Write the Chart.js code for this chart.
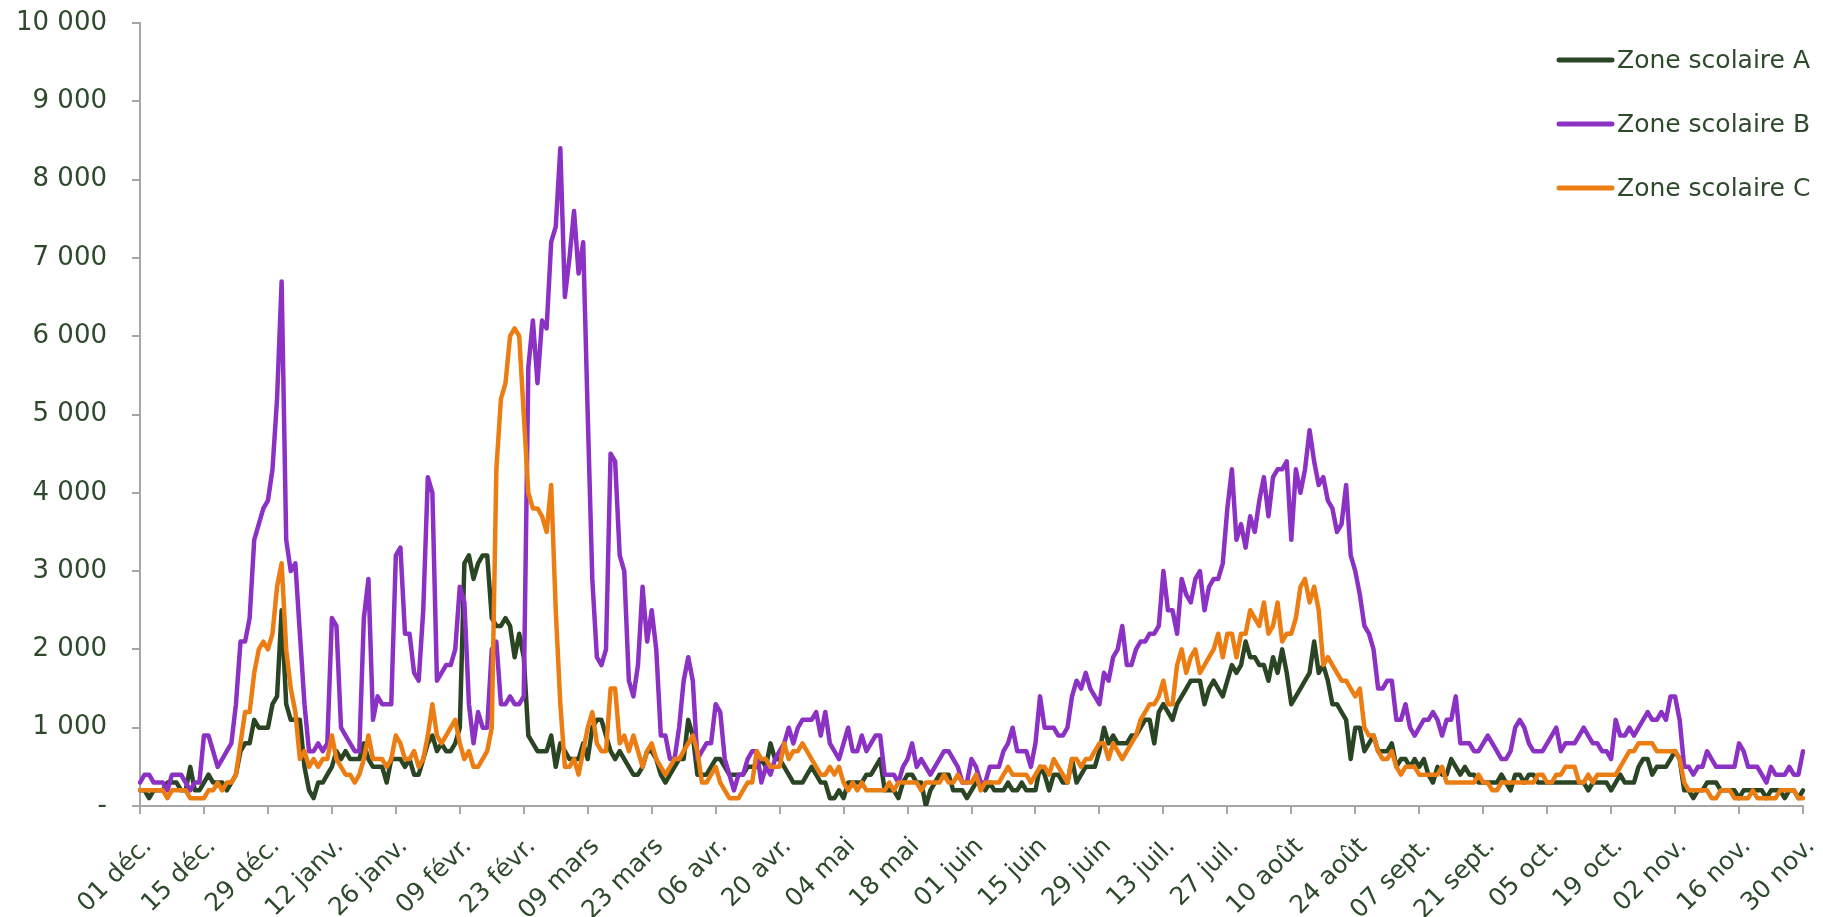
<!DOCTYPE html>
<html lang="fr">
<head>
<meta charset="utf-8">
<title>Zones scolaires</title>
<script src="https://cdn.jsdelivr.net/npm/chart.js@4.4.0/dist/chart.umd.min.js"></script>
<style>
  html, body { margin: 0; padding: 0; background: #ffffff; }
  #cadre { position: relative; width: 1823px; height: 917px; }
</style>
</head>
<body>
<div id="cadre"><canvas id="graphique"></canvas></div>
<script>
// =====================================================================
// Zones scolaires A / B / C - valeurs journalières du 01 déc. au 30 nov.
// =====================================================================

// Étiquettes de l'axe X (une toutes les deux semaines)
const etiquettesX = ['01 déc.', '15 déc.', '29 déc.', '12 janv.', '26 janv.', '09 févr.', '23 févr.',
  '09 mars', '23 mars', '06 avr.', '20 avr.', '04 mai', '18 mai', '01 juin', '15 juin', '29 juin',
  '13 juil.', '27 juil.', '10 août', '24 août', '07 sept.', '21 sept.', '05 oct.', '19 oct.',
  '02 nov.', '16 nov.', '30 nov.'];

// Graduations de l'axe Y
const graduationsY = [0, 1000, 2000, 3000, 4000, 5000, 6000, 7000, 8000, 9000, 10000];

// Valeurs journalières (une ligne = 14 jours)
const zoneA = [
  200, 200, 100, 200, 200, 200, 300, 300, 300, 200, 200, 500, 200, 200,
  300, 400, 300, 300, 300, 200, 300, 400, 700, 800, 800, 1100, 1000, 1000,
  1000, 1300, 1400, 2500, 1300, 1100, 1100, 1100, 500, 200, 100, 300, 300, 400,
  500, 700, 600, 700, 600, 600, 600, 800, 600, 500, 500, 500, 300, 600,
  600, 600, 500, 600, 400, 400, 600, 800, 900, 700, 800, 700, 700, 800,
  1000, 3100, 3200, 2900, 3100, 3200, 3200, 2400, 2300, 2300, 2400, 2300, 1900, 2200,
  1900, 900, 800, 700, 700, 700, 900, 500, 800, 700, 600, 600, 600, 800,
  600, 1000, 1100, 1100, 900, 700, 600, 700, 600, 500, 400, 400, 500, 700,
  700, 600, 400, 300, 400, 500, 600, 600, 1100, 900, 400, 400, 400, 500,
  600, 600, 500, 400, 400, 400, 400, 500, 500, 500, 600, 500, 800, 600,
  600, 500, 400, 300, 300, 300, 400, 500, 400, 300, 300, 100, 100, 200,
  100, 300, 300, 300, 300, 400, 400, 500, 600, 200, 200, 200, 100, 300,
  400, 400, 300, 300, 0, 200, 300, 400, 400, 400, 200, 200, 200, 100,
  200, 300, 300, 200, 300, 200, 200, 200, 300, 200, 200, 300, 200, 200,
  200, 500, 400, 200, 400, 400, 300, 300, 600, 300, 400, 500, 500, 500,
  700, 1000, 800, 900, 800, 800, 800, 900, 900, 1000, 1100, 1100, 800, 1200,
  1300, 1200, 1100, 1300, 1400, 1500, 1600, 1600, 1600, 1300, 1500, 1600, 1500, 1400,
  1600, 1800, 1700, 1800, 2100, 1900, 1900, 1800, 1800, 1600, 1900, 1700, 2000, 1700,
  1300, 1400, 1500, 1600, 1700, 2100, 1700, 1800, 1600, 1300, 1300, 1200, 1100, 600,
  1000, 1000, 700, 800, 900, 700, 700, 700, 800, 500, 600, 600, 500, 600,
  500, 600, 400, 300, 500, 400, 400, 600, 500, 400, 500, 400, 400, 300,
  300, 300, 300, 300, 400, 300, 200, 400, 400, 300, 400, 400, 300, 300,
  300, 300, 300, 300, 300, 300, 300, 300, 300, 200, 300, 300, 300, 300,
  200, 300, 400, 300, 300, 300, 500, 600, 600, 400, 500, 500, 500, 600,
  700, 600, 200, 200, 100, 200, 200, 300, 300, 300, 200, 200, 200, 200,
  100, 200, 200, 200, 200, 200, 100, 200, 200, 200, 100, 200, 200, 100,
  200
];

const zoneB = [
  300, 400, 400, 300, 300, 300, 200, 400, 400, 400, 300, 200, 300, 300,
  900, 900, 700, 500, 600, 700, 800, 1300, 2100, 2100, 2400, 3400, 3600, 3800,
  3900, 4300, 5200, 6700, 3400, 3000, 3100, 2200, 1300, 700, 700, 800, 700, 800,
  2400, 2300, 1000, 900, 800, 700, 700, 2400, 2900, 1100, 1400, 1300, 1300, 1300,
  3200, 3300, 2200, 2200, 1700, 1600, 2500, 4200, 4000, 1600, 1700, 1800, 1800, 2000,
  2800, 2600, 1300, 800, 1200, 1000, 1000, 2000, 2100, 1300, 1300, 1400, 1300, 1300,
  1400, 5600, 6200, 5400, 6200, 6100, 7200, 7400, 8400, 6500, 7000, 7600, 6800, 7200,
  5000, 2900, 1900, 1800, 2000, 4500, 4400, 3200, 3000, 1600, 1400, 1800, 2800, 2100,
  2500, 2000, 900, 900, 600, 600, 1000, 1600, 1900, 1600, 600, 700, 800, 800,
  1300, 1200, 600, 400, 200, 400, 400, 600, 700, 700, 300, 500, 400, 600,
  700, 800, 1000, 800, 1000, 1100, 1100, 1100, 1200, 900, 1200, 800, 700, 600,
  800, 1000, 700, 700, 900, 700, 800, 900, 900, 400, 400, 400, 300, 500,
  600, 800, 500, 600, 500, 400, 500, 600, 700, 700, 600, 500, 300, 300,
  600, 500, 300, 300, 500, 500, 500, 700, 800, 1000, 700, 700, 700, 500,
  800, 1400, 1000, 1000, 1000, 900, 900, 1000, 1400, 1600, 1500, 1700, 1500, 1400,
  1300, 1700, 1600, 1900, 2000, 2300, 1800, 1800, 2000, 2100, 2100, 2200, 2200, 2300,
  3000, 2500, 2500, 2200, 2900, 2700, 2600, 2900, 3000, 2500, 2800, 2900, 2900, 3100,
  3800, 4300, 3400, 3600, 3300, 3700, 3500, 3900, 4200, 3700, 4200, 4300, 4300, 4400,
  3400, 4300, 4000, 4300, 4800, 4400, 4100, 4200, 3900, 3800, 3500, 3600, 4100, 3200,
  3000, 2700, 2300, 2200, 2000, 1500, 1500, 1600, 1600, 1100, 1100, 1300, 1000, 900,
  1000, 1100, 1100, 1200, 1100, 900, 1100, 1100, 1400, 800, 800, 800, 700, 700,
  800, 900, 800, 700, 600, 600, 700, 1000, 1100, 1000, 800, 700, 700, 700,
  800, 900, 1000, 700, 800, 800, 800, 900, 1000, 900, 800, 800, 700, 700,
  600, 1100, 900, 900, 1000, 900, 1000, 1100, 1200, 1100, 1100, 1200, 1100, 1400,
  1400, 1100, 500, 500, 400, 500, 500, 700, 600, 500, 500, 500, 500, 500,
  800, 700, 500, 500, 500, 400, 300, 500, 400, 400, 400, 500, 400, 400,
  700
];

const zoneC = [
  200, 200, 200, 200, 200, 200, 100, 200, 200, 200, 200, 100, 100, 100,
  100, 200, 200, 300, 200, 300, 300, 400, 800, 1200, 1200, 1700, 2000, 2100,
  2000, 2200, 2800, 3100, 2000, 1500, 1200, 600, 700, 500, 600, 500, 600, 600,
  900, 600, 500, 400, 400, 300, 400, 600, 900, 600, 600, 600, 500, 600,
  900, 800, 600, 600, 700, 500, 600, 900, 1300, 900, 800, 900, 1000, 1100,
  800, 600, 700, 500, 500, 600, 700, 1000, 4300, 5200, 5400, 6000, 6100, 6000,
  5000, 4000, 3800, 3800, 3700, 3500, 4100, 2500, 1300, 500, 500, 600, 400, 700,
  1000, 1200, 800, 700, 700, 1500, 1500, 800, 900, 700, 900, 700, 500, 700,
  800, 600, 500, 400, 500, 600, 600, 700, 800, 900, 700, 300, 300, 400,
  500, 300, 200, 100, 100, 100, 200, 300, 300, 700, 600, 600, 500, 500,
  500, 800, 600, 700, 700, 800, 700, 600, 500, 400, 400, 500, 400, 500,
  300, 200, 300, 200, 300, 200, 200, 200, 200, 200, 300, 200, 300, 300,
  300, 300, 300, 200, 300, 300, 300, 300, 400, 300, 300, 400, 300, 300,
  300, 400, 200, 300, 300, 300, 300, 400, 500, 400, 400, 400, 400, 300,
  400, 500, 500, 400, 600, 500, 400, 300, 600, 600, 500, 600, 600, 700,
  800, 800, 600, 800, 700, 600, 700, 800, 900, 1100, 1200, 1300, 1300, 1400,
  1600, 1300, 1300, 1800, 2000, 1700, 1900, 2000, 1700, 1800, 1900, 2000, 2200, 1900,
  2200, 2200, 1900, 2200, 2200, 2500, 2400, 2300, 2600, 2200, 2300, 2600, 2100, 2200,
  2200, 2400, 2800, 2900, 2600, 2800, 2500, 1800, 1900, 1800, 1700, 1600, 1600, 1500,
  1400, 1500, 1000, 900, 900, 700, 600, 600, 700, 500, 400, 500, 500, 500,
  400, 400, 400, 400, 400, 500, 300, 300, 300, 300, 300, 300, 300, 400,
  300, 300, 200, 200, 300, 300, 300, 300, 300, 300, 300, 300, 400, 400,
  300, 300, 400, 400, 500, 500, 500, 300, 300, 400, 300, 400, 400, 400,
  400, 400, 500, 600, 700, 700, 800, 800, 800, 800, 700, 700, 700, 700,
  700, 600, 300, 200, 200, 200, 200, 200, 100, 100, 200, 200, 200, 100,
  100, 100, 100, 200, 100, 100, 100, 100, 100, 200, 200, 200, 200, 100,
  100
];

const couleurTexte = '#2d4a2b';
const couleurAxe = '#a6a6a6';
const police = '"DejaVu Sans", sans-serif';

// Un jour = une catégorie (index 0 = 01 déc.)
const jours = zoneA.map((_, i) => i);

// Formate 10000 -> "10 000", 0 -> "-"
function formaterNombre(v) {
  if (v === 0) return '-';
  return String(v).replace(/\B(?=(\d{3})+(?!\d))/g, ' ');
}

// Légende dessinée à la main, en haut à droite de la zone du graphique
const legendeZones = {
  id: 'legendeZones',
  afterDraw(chart) {
    const ctx = chart.ctx;
    const x0 = chart.chartArea.right - 244;
    ctx.save();
    ctx.font = '25px ' + police;
    ctx.textBaseline = 'middle';
    ctx.textAlign = 'left';
    chart.data.datasets.forEach((ds, i) => {
      const y = 60 + i * 64;
      ctx.strokeStyle = ds.borderColor;
      ctx.lineWidth = 5;
      ctx.lineCap = 'round';
      ctx.beginPath();
      ctx.moveTo(x0, y);
      ctx.lineTo(x0 + 53, y);
      ctx.stroke();
      ctx.fillStyle = couleurTexte;
      ctx.fillText(ds.label, x0 + 58, y + 1);
    });
    ctx.restore();
  }
};

const ctx = document.getElementById('graphique').getContext('2d');

new Chart(ctx, {
  type: 'line',
  data: {
    labels: jours,
    datasets: [
      { label: 'Zone scolaire A', data: zoneA, borderColor: '#2a4524', borderWidth: 4.5, order: 3 },
      { label: 'Zone scolaire B', data: zoneB, borderColor: '#8b32c4', borderWidth: 4.5, order: 2 },
      { label: 'Zone scolaire C', data: zoneC, borderColor: '#ec7d12', borderWidth: 4.5, order: 1 }
    ]
  },
  options: {
    responsive: true,
    maintainAspectRatio: false,
    animation: false,
    layout: { padding: { top: 23, right: 20, bottom: 0, left: 0 } },
    elements: {
      line: { tension: 0, borderJoinStyle: 'round', borderCapStyle: 'round', fill: false },
      point: { radius: 0, hoverRadius: 0 }
    },
    plugins: {
      legend: { display: false },
      tooltip: { enabled: false }
    },
    scales: {
      x: {
        type: 'category',
        offset: false,
        afterBuildTicks: (axe) => {
          // une graduation toutes les deux semaines
          axe.ticks = axe.ticks.filter((t) => t.value % 14 === 0);
        },
        afterFit: (axe) => {
          // hauteur fixe, pas de marge ajoutée par les étiquettes inclinées
          axe.height = 111;
          axe.paddingLeft = 0;
          axe.paddingRight = 0;
        },
        grid: { drawOnChartArea: false, drawTicks: true, tickLength: 8, color: couleurAxe, lineWidth: 2 },
        border: { color: couleurAxe, width: 2 },
        ticks: {
          autoSkip: false,
          minRotation: 45,
          maxRotation: 45,
          padding: 18,
          labelOffset: 8,
          color: couleurTexte,
          font: { family: police, size: 25 },
          callback: (v) => etiquettesX[v / 14]
        }
      },
      y: {
        min: graduationsY[0],
        max: graduationsY[graduationsY.length - 1],
        afterFit: (axe) => {
          axe.width = 140;
          axe.paddingTop = 0;
          axe.paddingBottom = 0;
        },
        afterBuildTicks: (axe) => {
          axe.ticks = graduationsY.map((v) => ({ value: v }));
        },
        grid: { drawOnChartArea: false, drawTicks: true, tickLength: 8, color: couleurAxe, lineWidth: 2 },
        border: { color: couleurAxe, width: 2 },
        ticks: {
          padding: 25,
          color: couleurTexte,
          font: { family: police, size: 26 },
          callback: (v) => formaterNombre(v)
        }
      }
    }
  },
  plugins: [legendeZones]
});
</script>
</body>
</html>
